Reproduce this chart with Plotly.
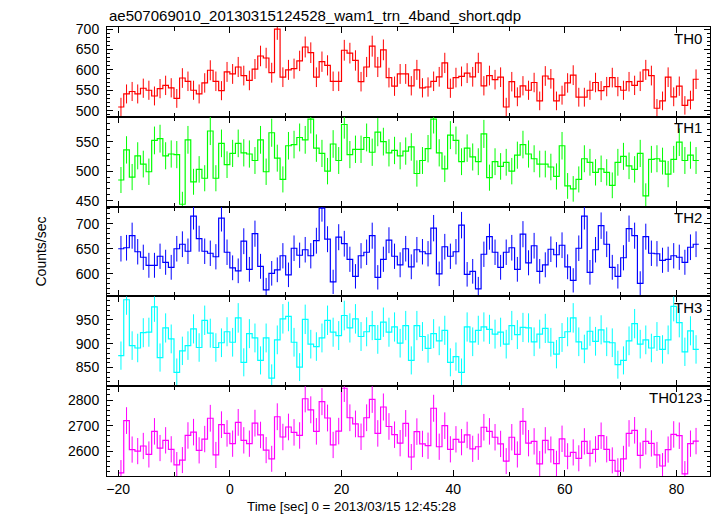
import numpy as np
import plotly.graph_objects as go
from plotly.subplots import make_subplots

TITLE = "ae507069010_20130315124528_wam1_trn_4band_short.qdp"
X_TITLE = "Time [sec] 0 = 2013/03/15 12:45:28"
Y_TITLE = "Counts/sec"
BAND_NAMES = ["TH0", "TH1", "TH2", "TH3", "TH0123"]

# time bins (bin centres, seconds from 2013/03/15 12:45:28), 1 s bins
T_FIRST = -19.5
BIN_SEC = 1.0

th0 = [509, 541, 547, 541, 555, 550, 536, 554, 562, 556, 530, 580, 572, 550, 541, 568, 599, 572, 549, 595,
       590, 607, 586, 574, 602, 634, 629, 593, 700, 582, 600, 603, 622, 656, 642, 582, 620, 611, 572, 572,
       648, 641, 623, 571, 607, 658, 607, 649, 581, 560, 590, 590,
       561, 600, 556, 558, 572, 583, 617, 555, 581, 584, 592, 583, 617, 561, 586, 576, 582, 509, 571, 534,
       561, 550, 569, 524, 585, 578, 524, 538, 568, 587, 533, 533, 550, 569, 549, 559, 581, 559, 550, 571,
       562, 572, 600, 586, 506, 524, 582, 534, 560, 513, 526, 577]
th1 = [485, 536, 490, 526, 512, 499, 552, 555, 526, 529, 528, 444, 553, 482, 503, 488, 568, 488, 547, 511,
       530, 547, 531, 529, 518, 553, 499, 565, 522, 486, 543, 545, 557, 553, 588, 539, 530, 500, 546, 518,
       579, 528, 537, 537, 557, 532, 566, 550, 531, 535, 526, 534,
       541, 496, 518, 538, 588, 531, 504, 561, 552, 516, 539, 524, 516, 563, 489, 516, 508, 515, 500, 527,
       545, 529, 521, 512, 512, 507, 491, 543, 475, 470, 486, 521, 515, 498, 504, 498, 476, 515, 525, 509,
       503, 530, 458, 520, 521, 517, 495, 520, 549, 518, 527, 518]
th2 = [650, 652, 676, 644, 633, 617, 617, 635, 623, 613, 650, 659, 645, 715, 670, 645, 641, 634, 711, 643,
       612, 606, 665, 609, 680, 615, 568, 601, 608, 636, 598, 651, 637, 648, 636, 666, 731, 669, 584, 673,
       660, 629, 595, 636, 643, 676, 593, 629, 667, 635, 618, 650,
       614, 648, 644, 640, 691, 600, 654, 635, 644, 697, 599, 605, 570, 639, 674, 643, 613, 643, 652, 609,
       679, 622, 656, 605, 618, 649, 638, 657, 614, 587, 651, 715, 603, 648, 696, 659, 613, 595, 632, 690,
       676, 581, 674, 641, 640, 627, 629, 636, 633, 623, 653, 659]
th3 = [875, 992, 896, 891, 923, 924, 977, 871, 933, 910, 840, 885, 896, 931, 892, 949, 922, 892, 902, 925,
       903, 954, 861, 921, 912, 865, 912, 828, 908, 952, 957, 903, 851, 951, 899, 894, 912, 949, 924, 917,
       959, 933, 952, 915, 925, 938, 909, 945, 924, 935, 901, 938,
       865, 938, 915, 890, 921, 906, 928, 861, 873, 840, 935, 904, 928, 935, 930, 920, 924, 899, 938, 919,
       934, 933, 904, 920, 932, 903, 878, 913, 925, 954, 904, 889, 926, 905, 929, 904, 902, 856, 865, 906,
       942, 899, 908, 891, 915, 888, 908, 978, 944, 883, 927, 888]
th0123 = [2516, 2720, 2607, 2601, 2621, 2588, 2678, 2613, 2643, 2608, 2547, 2566, 2662, 2675, 2604, 2648, 2729, 2586, 2704, 2670,
          2630, 2713, 2643, 2630, 2710, 2664, 2605, 2571, 2735, 2656, 2695, 2674, 2662, 2805, 2762, 2678, 2794, 2730, 2625, 2679,
          2846, 2731, 2707, 2657, 2731, 2803, 2670, 2773, 2697, 2665, 2632, 2709,
          2578, 2677, 2629, 2622, 2768, 2618, 2700, 2608, 2647, 2636, 2664, 2610, 2618, 2694, 2678, 2655, 2629, 2562, 2655, 2588,
          2717, 2632, 2639, 2551, 2643, 2607, 2552, 2649, 2581, 2596, 2573, 2639, 2592, 2608, 2661, 2608, 2565, 2523, 2571, 2670,
          2682, 2584, 2639, 2631, 2586, 2543, 2607, 2666, 2661, 2512, 2630, 2640]

SERIES = [th0, th1, th2, th3, th0123]
COLORS = ["#ff0000", "#00ff00", "#0000ff", "#00ffff", "#ff00ff"]
Y_RANGES = [[485, 705], [440, 592], [555, 734], [811, 999], [2504, 2854]]
Y_DTICK = [50, 50, 50, 50, 100]
Y_MINOR = [10, 10, 10, 10, 20]
X_RANGE = [-22, 86]

FONT = "Liberation Sans, Arial, Helvetica, sans-serif"

fig = make_subplots(rows=5, cols=1, shared_xaxes=True, vertical_spacing=0)

for i, (vals, col) in enumerate(zip(SERIES, COLORS)):
    rate = np.asarray(vals, dtype=float)
    t = T_FIRST + BIN_SEC * np.arange(len(rate))
    # Poisson errors of the binned rate
    err = np.sqrt(rate * BIN_SEC) / BIN_SEC
    xs = np.concatenate([[t[0] - BIN_SEC / 2], t, [t[-1] + BIN_SEC / 2]])
    ys = np.concatenate([[rate[0]], rate, [rate[-1]]])
    fig.add_trace(go.Scatter(x=t, y=rate, mode="markers",
                             marker=dict(size=1, color=col),
                             error_y=dict(type="data", array=err, width=0, thickness=1, color=col),
                             showlegend=False, hoverinfo="skip"), row=i + 1, col=1)
    fig.add_trace(go.Scatter(x=xs, y=ys, mode="lines", line=dict(color=col, width=1.2, shape="hvh"),
                             showlegend=False), row=i + 1, col=1)
    fig.update_yaxes(range=Y_RANGES[i], dtick=Y_DTICK[i], tick0=0,
                     ticks="inside", ticklen=6, tickwidth=1, tickcolor="black",
                     minor=dict(dtick=Y_MINOR[i], tick0=0, ticks="inside", ticklen=3, tickcolor="black"),
                     mirror="allticks", showline=True, linecolor="black", linewidth=1,
                     showgrid=False, zeroline=False, ticklabelstandoff=4,
                     tickfont=dict(family=FONT, size=14, color="black"), row=i + 1, col=1)
    fig.update_xaxes(range=X_RANGE, dtick=20, tick0=0,
                     ticks="inside", ticklen=6, tickwidth=1, tickcolor="black",
                     minor=dict(dtick=10, tick0=0, ticks="inside", ticklen=4, tickcolor="black"),
                     mirror="allticks", showline=True, linecolor="black", linewidth=1,
                     showgrid=False, zeroline=False, showticklabels=(i == 4), ticklabelstandoff=0,
                     tickfont=dict(family=FONT, size=14, color="black"), row=i + 1, col=1)

annotations = [
    dict(text=TITLE, xref="paper", yref="paper", x=0, y=1, xanchor="left", yanchor="middle",
         yshift=12, showarrow=False, font=dict(family=FONT, size=15, color="black")),
    dict(text=X_TITLE, xref="paper", yref="paper", x=0.406, y=0, xanchor="center", yanchor="middle",
         yshift=-30, showarrow=False, font=dict(family=FONT, size=13.3, color="black")),
    dict(text=Y_TITLE, xref="paper", yref="paper", x=0, y=0.5, xanchor="center", yanchor="middle",
         xshift=-67, textangle=-90, showarrow=False, font=dict(family=FONT, size=14, color="black")),
]
for i, name in enumerate(BAND_NAMES):
    top = 1 - 0.2 * i
    annotations.append(dict(text=name, xref="paper", yref="paper", x=1, y=top, xanchor="right",
                            yanchor="middle", xshift=-6, yshift=-11, showarrow=False,
                            font=dict(family=FONT, size=15, color="black")))

fig.update_layout(width=717, height=516, margin=dict(l=107, r=7, t=27, b=40),
                  plot_bgcolor="white", paper_bgcolor="white", annotations=annotations,
                  font=dict(family=FONT, size=14, color="black"))

fig.write_html("out.html", config={"displayModeBar": False},
               post_script="document.body.style.margin='0px';")
